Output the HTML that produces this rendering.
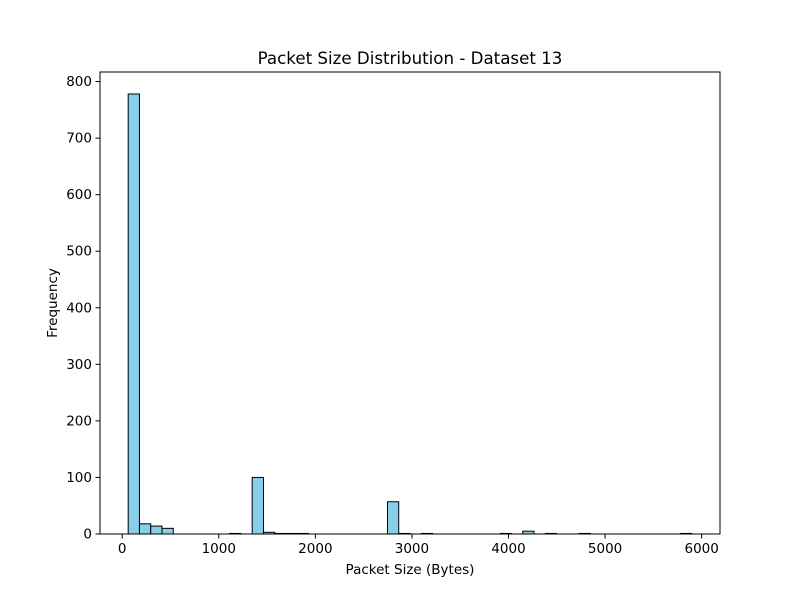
<!DOCTYPE html>
<html><head><meta charset="utf-8"><style>
body{margin:0;background:#fff}
svg text{font-family:"DejaVu Sans","Liberation Sans",sans-serif;fill:#000}
</style></head><body>
<svg id="chart" width="800" height="600" viewBox="0 0 800 600" xmlns="http://www.w3.org/2000/svg">
<rect width="800" height="600" fill="#fff"/>
<text x="410" y="64" font-size="16.67" text-anchor="middle">Packet Size Distribution - Dataset 13</text>
<text x="410" y="574" font-size="13.5" text-anchor="middle">Packet Size (Bytes)</text>
<text transform="translate(57,303) rotate(-90)" font-size="13.5" text-anchor="middle">Frequency</text>
<g id="bars"></g><g id="axes"></g>
</svg>
<script>
const binStart = 62;
const binWidth = 116.72;
const counts = [778,18,14,10,0,0,0,0,0,1,0,100,3,1,1,1,0,0,0,0,0,0,0,57,1,0,1,0,0,0,0,0,0,1,0,5,0,1,0,0,1,0,0,0,0,0,0,0,0,1];
const xTicks = [0,1000,2000,3000,4000,5000,6000];
const yTicks = [0,100,200,300,400,500,600,700,800];
const L=100,R=720,T=72,B=534;
const xMin=-229.8, xMax=6189.8;
const yMax=Math.max(...counts)*1.05;
const X=v=>L+(v-xMin)/(xMax-xMin)*(R-L);
const Y=v=>B-v/yMax*(B-T);
const NS="http://www.w3.org/2000/svg";
const bars=document.getElementById('bars'), axes=document.getElementById('axes');
function mk(t,a,p){const e=document.createElementNS(NS,t);for(const k in a)e.setAttribute(k,a[k]);p.appendChild(e);return e;}
counts.forEach((c,i)=>{
  const x0=X(binStart+i*binWidth), x1=X(binStart+(i+1)*binWidth);
  const r=mk('rect',{x:x0,y:Y(c),width:x1-x0,height:B-Y(c),fill:'#87ceeb',stroke:'#000','stroke-width':1},bars);
  
  
});
const frame=mk('rect',{x:L,y:T,width:R-L,height:B-T,fill:'none',stroke:'#000','stroke-width':1},axes);


xTicks.forEach(v=>{
  const x=X(v);
  mk('line',{x1:x,x2:x,y1:B,y2:B+4.5,stroke:'#000'},axes);
  const t=mk('text',{x:x,y:B+19,'font-size':13.5,'text-anchor':'middle'},axes);
  t.textContent=v;
  
  
});
yTicks.forEach(v=>{
  const y=Y(v);
  mk('line',{x1:L-4.5,x2:L,y1:y,y2:y,stroke:'#000'},axes);
  const t=mk('text',{x:L-8,y:y+4.5,'font-size':13.5,'text-anchor':'end'},axes);
  t.textContent=v;
  
  
});
</script>
</body></html>
